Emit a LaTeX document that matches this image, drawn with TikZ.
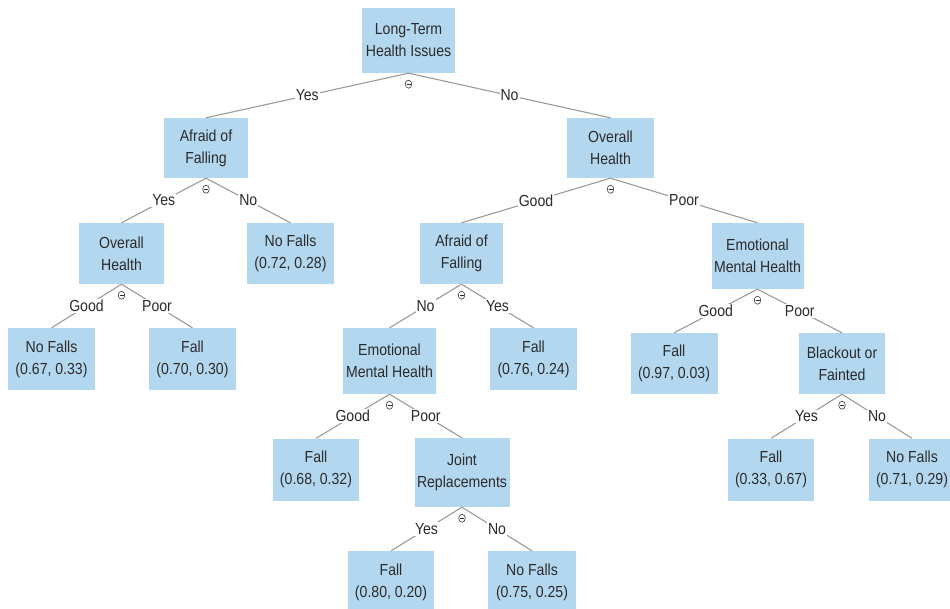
\documentclass[tikz,border=0pt]{standalone}
\usepackage{fontspec}
\setmainfont{Liberation Sans}[FakeStretch=0.88]
\definecolor{boxblue}{HTML}{B3D7EF}
\definecolor{edgegray}{HTML}{9A9A9A}
\definecolor{txt}{HTML}{2B2B2B}
\tikzset{
  box/.style={fill=boxblue, text=txt, align=center, inner sep=0pt,
    font=\fontsize{16}{22}\selectfont},
  edge/.style={draw=edgegray, line width=1.1pt},
  lab/.style={fill=white, text=txt, inner sep=1pt, font=\fontsize{16}{18}\selectfont},
  om/.pic={\draw[txt,line width=0.55pt] (0,0) ellipse (3.3 and 4);
           \draw[txt,line width=0.55pt] (-2,0)--(2,0);}
}
\begin{document}
\begin{tikzpicture}[x=1pt,y=-1pt]
\useasboundingbox (0,0) rectangle (950,609);
\node[box, minimum width=93, minimum height=65] (root) at (408.5,40.5) {Long-Term\\Health Issues};
\node[box, minimum width=84, minimum height=60] (afL) at (206,148) {Afraid of\\Falling};
\node[box, minimum width=87, minimum height=60] (ohR) at (610.5,148) {Overall\\Health};
\node[box, minimum width=85, minimum height=61] (ohLL) at (121.5,253.5) {Overall\\Health};
\node[box, minimum width=87, minimum height=61] (nf1) at (290.5,253.5) {No Falls\\(0.72, 0.28)};
\node[box, minimum width=87, minimum height=62] (nf2) at (51.5,359) {No Falls\\(0.67, 0.33)};
\node[box, minimum width=87, minimum height=62] (f1) at (192.5,359) {Fall\\(0.70, 0.30)};
\node[box, minimum width=83, minimum height=61] (afM) at (461.5,253.5) {Afraid of\\Falling};
\node[box, minimum width=92, minimum height=66] (emR) at (757.5,256) {Emotional\\Mental Health};
\node[box, minimum width=93, minimum height=66] (emM) at (389.5,361) {Emotional\\Mental Health};
\node[box, minimum width=87, minimum height=62] (f2) at (533.5,359) {Fall\\(0.76, 0.24)};
\node[box, minimum width=87, minimum height=61] (f3) at (674,363.5) {Fall\\(0.97, 0.03)};
\node[box, minimum width=86, minimum height=61] (bo) at (842,363.5) {Blackout or\\Fainted};
\node[box, minimum width=86, minimum height=62] (f4) at (316,469.5) {Fall\\(0.68, 0.32)};
\node[box, minimum width=95, minimum height=69] (jr) at (462,472.5) {Joint\\Replacements};
\node[box, minimum width=86, minimum height=62] (f5) at (771,469.5) {Fall\\(0.33, 0.67)};
\node[box, minimum width=86, minimum height=62] (nf3) at (912,469.5) {No Falls\\(0.71, 0.29)};
\node[box, minimum width=86, minimum height=62] (f6) at (391,582) {Fall\\(0.80, 0.20)};
\node[box, minimum width=88, minimum height=62] (nf4) at (532,582) {No Falls\\(0.75, 0.25)};

\draw[edge] (root.south) -- node[lab]{Yes} (afL.north);
\draw[edge] (root.south) -- node[lab]{No} (ohR.north);
\draw[edge] (afL.south) -- node[lab]{Yes} (ohLL.north);
\draw[edge] (afL.south) -- node[lab]{No} (nf1.north);
\draw[edge] (ohLL.south) -- node[lab]{Good} (nf2.north);
\draw[edge] (ohLL.south) -- node[lab]{Poor} (f1.north);
\draw[edge] (ohR.south) -- node[lab]{Good} (afM.north);
\draw[edge] (ohR.south) -- node[lab]{Poor} (emR.north);
\draw[edge] (afM.south) -- node[lab]{No} (emM.north);
\draw[edge] (afM.south) -- node[lab]{Yes} (f2.north);
\draw[edge] (emR.south) -- node[lab]{Good} (f3.north);
\draw[edge] (emR.south) -- node[lab]{Poor} (bo.north);
\draw[edge] (emM.south) -- node[lab]{Good} (f4.north);
\draw[edge] (emM.south) -- node[lab]{Poor} (jr.north);
\draw[edge] (bo.south) -- node[lab]{Yes} (f5.north);
\draw[edge] (bo.south) -- node[lab]{No} (nf3.north);
\draw[edge] (jr.south) -- node[lab]{Yes} (f6.north);
\draw[edge] (jr.south) -- node[lab]{No} (nf4.north);

\foreach \n in {root,afL,ohR,ohLL,afM,emR,emM,bo,jr}
  \path (\n.south) ++(0,11) pic{om};
\end{tikzpicture}
\end{document}
